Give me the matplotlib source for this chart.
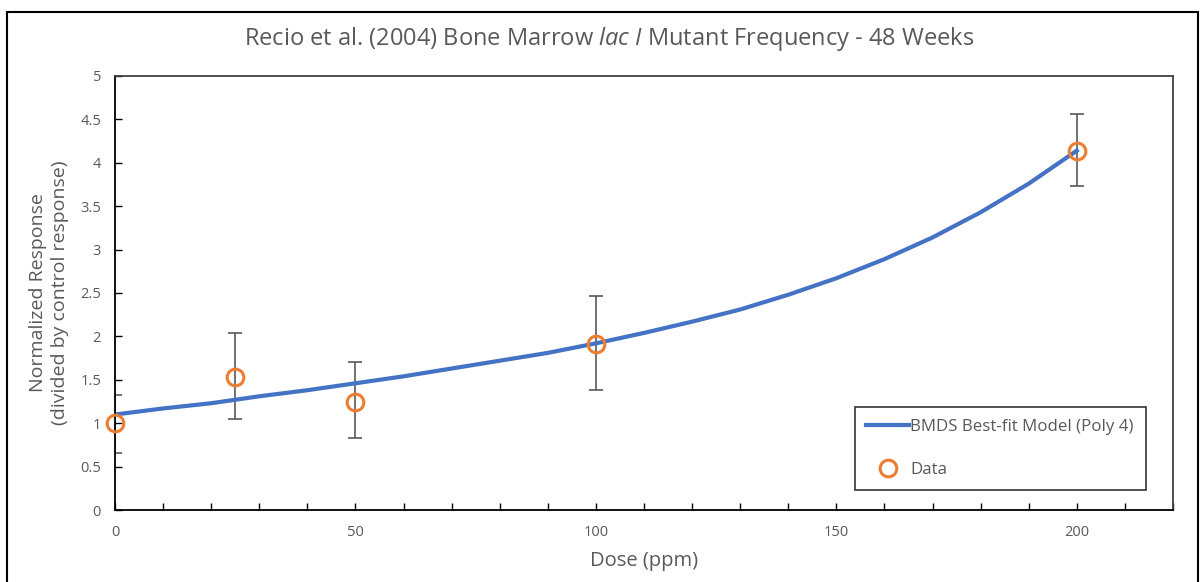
import matplotlib
matplotlib.use("Agg")
import matplotlib.pyplot as plt
from matplotlib.patches import Rectangle
from matplotlib.ticker import MultipleLocator

# observed data (dose in ppm, normalized response)
dose = [0, 25, 50, 100, 200]
response = [1.00, 1.53, 1.24, 1.91, 4.14]
err_low = [0.66, 1.05, 0.83, 1.38, 3.73]
err_high = [1.33, 2.04, 1.70, 2.47, 4.56]

# BMDS poly 4 model curve, every 10 ppm
model_dose = [0, 10, 20, 30, 40, 50, 60, 70, 80, 90, 100,
              110, 120, 130, 140, 150, 160, 170, 180, 190, 200]
model_resp = [1.10, 1.17, 1.23, 1.31, 1.38, 1.46, 1.54, 1.63, 1.72, 1.81, 1.92,
              2.04, 2.17, 2.31, 2.48, 2.67, 2.89, 3.14, 3.43, 3.76, 4.14]

x_ticks = [0, 50, 100, 150, 200]
y_ticks = [0, 0.5, 1, 1.5, 2, 2.5, 3, 3.5, 4, 4.5, 5]

plt.rcParams['font.family'] = ['Open Sans', 'DejaVu Sans']
plt.rcParams['mathtext.fontset'] = 'custom'
plt.rcParams['mathtext.rm'] = 'Open Sans'
plt.rcParams['mathtext.it'] = 'Open Sans:italic'

grey = '#595959'
blue = '#4472C4'
orange = '#ED7D31'

fig = plt.figure(figsize=(12.02, 5.82), dpi=100)
ax = fig.add_axes([115 / 1202, 72 / 582, 1058 / 1202, 434 / 582])

# outer chart border
fig.patches.append(Rectangle((7 / 1202, -0.02), 1191 / 1202, 0.02 + 570 / 582,
                             transform=fig.transFigure, fill=False,
                             edgecolor='black', linewidth=1.5))

ax.plot(model_dose, model_resp, color=blue, linewidth=3,
        label='BMDS Best-fit Model (Poly 4)', zorder=2)

yerr = [[r - lo for r, lo in zip(response, err_low)],
        [hi - r for r, hi in zip(response, err_high)]]
ax.errorbar(dose, response, yerr=yerr, fmt='none', ecolor=grey,
            elinewidth=1.2, capsize=5, capthick=1.2, zorder=1)
ax.plot(dose, response, linestyle='none', marker='o', markersize=12,
        markerfacecolor='none', markeredgecolor=orange, markeredgewidth=2.2,
        label='Data', zorder=3, clip_on=False)

ax.set_xlim(0, 220)
ax.set_ylim(0, 5)
ax.set_xticks(x_ticks)
ax.set_yticks(y_ticks)
ax.set_yticklabels([f'{t:g}' for t in y_ticks])
ax.xaxis.set_minor_locator(MultipleLocator(10))
ax.tick_params(axis='both', which='both', direction='in', length=5,
               width=1, colors='black', labelcolor=grey, labelsize=10.5)
ax.tick_params(axis='x', pad=11)
ax.tick_params(axis='y', pad=10)

for side in ['left', 'bottom']:
    ax.spines[side].set_color('black')
    ax.spines[side].set_linewidth(1.3)
for side in ['top', 'right']:
    ax.spines[side].set_color('#404040')
    ax.spines[side].set_linewidth(1.3)

ax.set_xlabel('Dose (ppm)', color=grey, fontsize=14.5, labelpad=8)
ax.set_ylabel('Normalized Response\n(divided by control response)',
              color=grey, fontsize=14, labelpad=8, linespacing=1.3)

fig.text(0.507, 1 - 39 / 582,
         'Recio et al. (2004) Bone Marrow $lac$ $I$ Mutant Frequency - 48 Weeks',
         ha='center', va='center', color=grey, fontsize=17)

leg = ax.legend(loc='lower left', bbox_to_anchor=(0.699, 0.046),
                fontsize=12.2, frameon=True, fancybox=False,
                edgecolor='black', borderpad=0.7, labelspacing=1.6,
                handlelength=2.5, handletextpad=0.1, borderaxespad=0)
leg.get_frame().set_linewidth(1.2)
for txt in leg.get_texts():
    txt.set_color(grey)

fig.savefig('out.png', dpi=100)
